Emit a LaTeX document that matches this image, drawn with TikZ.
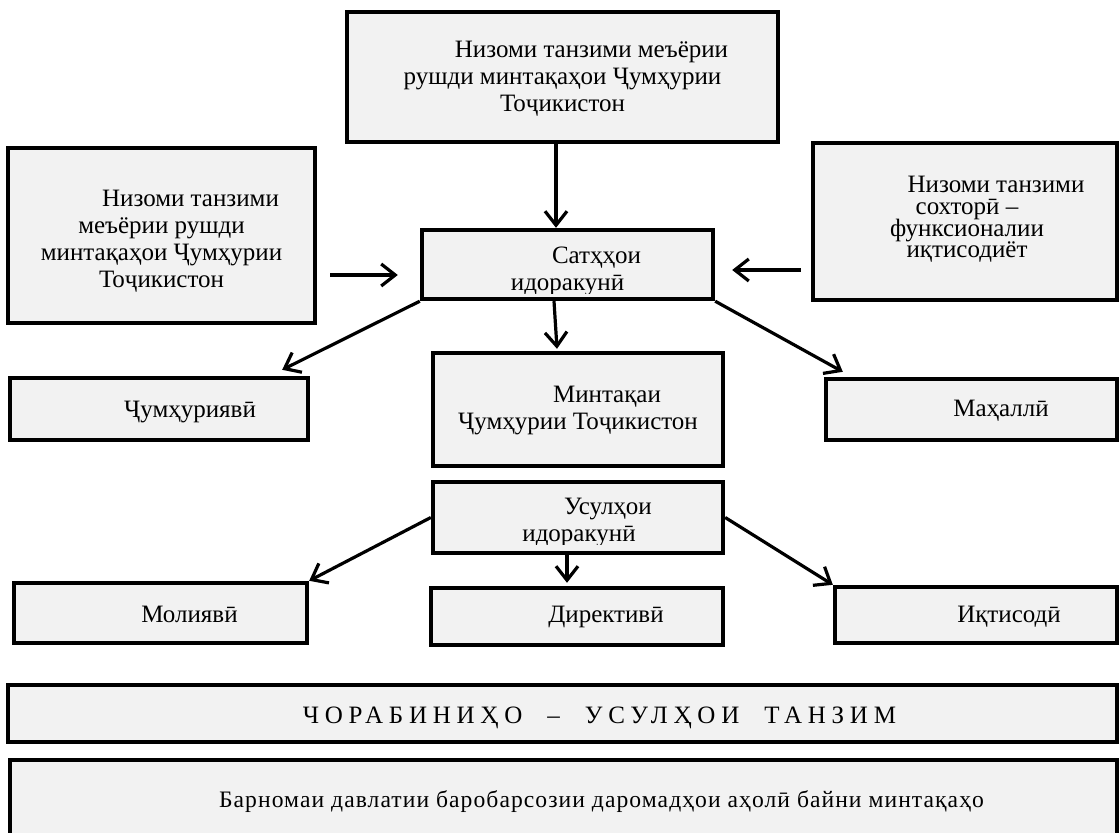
\documentclass[tikz,border=0pt]{standalone}
\usepackage{fontspec}
\setmainfont{Liberation Serif}
\usepackage{tikz}
\usetikzlibrary{arrows.meta, positioning}
\definecolor{boxgray}{RGB}{242,242,242}
\tikzset{>={Straight Barb[length=7pt,width=11pt]}}
\newcommand{\ind}{\hspace*{29pt}}
\newcommand{\tightlines}{\lineskiplimit=-20pt\relax}
\newcommand{\wgap}{\hspace{6.5pt}}

\begin{document}
\begin{tikzpicture}[x=0.5pt, y=-0.5pt,
		box/.style={draw, line width=2.2pt, fill=boxgray, inner sep=0pt},
		txt/.style={align=center, anchor=base, inner sep=0pt, font=\fontsize{12.5}{13.5}\selectfont},
		arr/.style={->, line width=1.6pt}]
			\useasboundingbox (0,0) rectangle (1119,833);
			\clip (0,0) rectangle (1119,833);
			% boxes
			\node[box, minimum width=215.5pt, minimum height=65pt] (norm) at (562.5,77) {};
			\node[box, minimum width=153.5pt, minimum height=87.5pt] (normL) at (161.5,235.5) {};
			\node[box, minimum width=152pt, minimum height=78.5pt] (normR) at (965,221.5) {};
			\node[box, minimum width=145.5pt, minimum height=34.5pt] (sat) at (567.5,264.5) {};
			\node[box, minimum width=149pt, minimum height=31pt] (rep) at (159,409) {};
			\node[box, minimum width=145pt, minimum height=56.5pt] (reg) at (578,409.5) {};
			\node[box, minimum width=145.5pt, minimum height=30.5pt] (loc) at (971.5,409.5) {};
			\node[box, minimum width=145pt, minimum height=35.5pt] (usul) at (578,517.5) {};
			\node[box, minimum width=146.5pt, minimum height=30pt] (fin) at (160.5,613) {};
			\node[box, minimum width=146pt, minimum height=28.5pt] (dir) at (577,616.5) {};
			\node[box, minimum width=141pt, minimum height=28pt] (eco) at (976,615) {};
			\node[box, minimum width=554.5pt, minimum height=28.5pt] (meas) at (562.5,713.5) {};
			\node[box, minimum width=553.5pt, minimum height=50pt] (prog) at (563.5,810) {};
			% texts (base = last line)
			\node[txt] (norm-t) at (562.5,112) {\ind Низоми танзими меъёрии\\ рушди минтақаҳои Ҷумҳурии\\ Тоҷикистон};
			\node[txt] (normL-t) at (161.5,288) {\ind Низоми танзими\\ меъёрии рушди\\ минтақаҳои Ҷумҳурии\\ Тоҷикистон};
			\node[txt, font={\fontsize{12.5}{10.85}\selectfont\tightlines}] (normR-t) at (967,258) {\ind Низоми танзими\\ сохторӣ –\\ функсионалии\\ иқтисодиёт};
			\begin{scope}
				\clip (sat.north west) rectangle ([yshift=4pt]sat.south east);
				\node[txt] (sat-t) at (567.5,290.5) {\ind Сатҳҳои\\ идоракунӣ};
			\end{scope}
			\node[txt] (rep-t) at (161,418) {\ind Ҷумҳуриявӣ};
			\node[txt] (reg-t) at (578,430) {\ind Минтақаи\\ Ҷумҳурии Тоҷикистон};
			\node[txt] (loc-t) at (972,417) {\ind Маҳаллӣ};
			\begin{scope}
				\clip (usul.north west) rectangle ([yshift=5.25pt]usul.south east);
				\node[txt] (usul-t) at (579,542) {\ind Усулҳои\\ идоракунӣ};
			\end{scope}
			\node[txt] (fin-t) at (160.5,623) {\ind Молиявӣ};
			\node[txt] (dir-t) at (577,623) {\ind Директивӣ};
			\node[txt] (eco-t) at (980,623) {\ind Иқтисодӣ};
			\node[txt] (meas-t) at (570.5,723) {\addfontfeatures{LetterSpace=23}\ind ЧОРАБИНИҲО\wgap{} –\wgap{} УСУЛҲОИ\wgap{} ТАНЗИМ};
			\node[txt, font=\fontsize{11.8}{13}\selectfont] (prog-t) at (572.5,807) {\addfontfeatures{LetterSpace=4.5}\ind Барномаи давлатии баробарсозии даромадҳои аҳолӣ байни минтақаҳо};
			% arrows
			\draw[arr] ([xshift=-3.25pt]norm.south) -- ([xshift=-5.75pt]sat.north);
			\draw[arr] ([xshift=6.5pt,yshift=-19.75pt]normL.east) -- ([xshift=-11pt,yshift=-5.25pt]sat.west);
			\draw[arr] ([xshift=-5pt,yshift=-24.25pt]normR.west) -- ([xshift=8.5pt,yshift=-2.75pt]sat.east);
			\draw[arr] (sat.south west) -- ([xshift=-14pt,yshift=3pt]rep.north east);
			\draw[arr] ([xshift=-6.75pt]sat.south) -- ([xshift=-10.5pt,yshift=1pt]reg.north);
			\draw[arr] (sat.south east) -- ([xshift=9.5pt,yshift=2.5pt]loc.north west);
			\draw[arr] (usul.west) -- (fin.north east);
			\draw[arr] ([xshift=-5.5pt]usul.south) -- ([xshift=-5pt,yshift=1.5pt]dir.north);
			\draw[arr] (usul.east) -- (eco.north west);
\end{tikzpicture}
\end{document}
